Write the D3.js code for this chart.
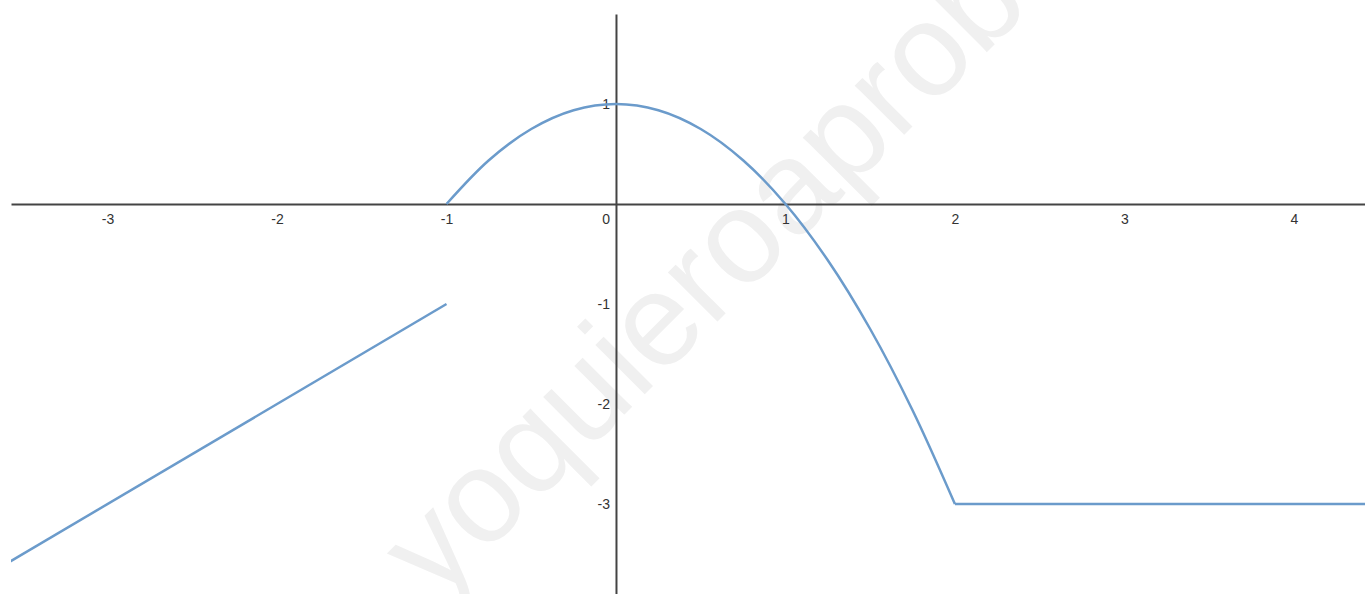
<!DOCTYPE html>
<html>
<head>
<meta charset="utf-8">
<script src="https://cdn.jsdelivr.net/npm/d3@7"></script>
<style>
  html, body { margin: 0; padding: 0; background: #fff; overflow: hidden; }
  text { font-family: "Liberation Sans", Arial, sans-serif; }
</style>
</head>
<body>
<script>
// piecewise function, points
// left branch: straight line, open end at x = -1
var lineX = [-3.6, -1];
var lineY = [-3.6, -1];
// middle branch: the arch from -1 to 2
var archX = [-1, -0.75, -0.5, -0.25, 0, 0.25, 0.5, 0.75, 1, 1.25, 1.5, 1.75, 2];
var archY = [0, 0.4375, 0.75, 0.9375, 1, 0.9375, 0.75, 0.4375, 0, -0.5625, -1.25, -2.0625, -3];
// right branch: flat at -3
var flatX = [2, 4.5];
var flatY = [-3, -3];

var xTicks = [-3, -2, -1, 1, 2, 3, 4];
var yTicks = [1, -1, -2, -3];

var width = 1365, height = 594;

var svg = d3.select('body').append('svg')
      .attr('width', width)
      .attr('height', height);

var x = d3.scaleLinear().domain([-3.57, 4.42]).range([11, 1365]);
var y = d3.scaleLinear().domain([1.9, -3.9]).range([14, 594]);

var plain = function(d) { return String(d); };

// watermark
svg.append('text')
  .attr('transform', 'translate(436,603) rotate(-45)')
  .attr('font-size', 132)
  .attr('fill', '#f0f0f0')
  .text('yoquieroaprobar');

// x axis
var xAxis = svg.append('g')
  .attr('transform', 'translate(0,' + y(0) + ')')
  .call(d3.axisBottom(x).tickValues(xTicks).tickFormat(plain)
    .tickSize(0).tickSizeOuter(0).tickPadding(10));
xAxis.select('.domain').attr('stroke', '#444').attr('stroke-width', 2);
xAxis.selectAll('text').attr('font-size', 14).attr('fill', '#333')
  .attr('font-family', '"Liberation Sans", Arial, sans-serif');
xAxis.append('text')
  .attr('x', x(0) - 6)
  .attr('y', 10)
  .attr('dy', '0.71em')
  .attr('text-anchor', 'end')
  .attr('font-size', 14)
  .attr('fill', '#333')
  .text('0');

// y axis
var yAxis = svg.append('g')
  .attr('transform', 'translate(' + x(0) + ',0)')
  .call(d3.axisLeft(y).tickValues(yTicks).tickFormat(plain)
    .tickSize(0).tickSizeOuter(0).tickPadding(6));
yAxis.select('.domain').attr('stroke', '#444').attr('stroke-width', 2);
yAxis.selectAll('text').attr('font-size', 14).attr('fill', '#333')
  .attr('font-family', '"Liberation Sans", Arial, sans-serif');

svg.append('clipPath').attr('id', 'plot')
  .append('rect').attr('x', 11).attr('y', 0).attr('width', width - 11).attr('height', height);

var plot = svg.append('g').attr('clip-path', 'url(#plot)');

var toPts = function(xs, ys) {
  return xs.map(function(d, i) { return [d, ys[i]]; });
};

var straight = d3.line()
  .x(function(d) { return x(d[0]); })
  .y(function(d) { return y(d[1]); });

var smooth = d3.line()
  .x(function(d) { return x(d[0]); })
  .y(function(d) { return y(d[1]); })
  .curve(d3.curveCatmullRom.alpha(0.5));

var blue = '#6b9bcb';

plot.append('path')
  .attr('d', straight(toPts(lineX, lineY)))
  .attr('fill', 'none').attr('stroke', blue).attr('stroke-width', 2.5);

plot.append('path')
  .attr('d', smooth(toPts(archX, archY)))
  .attr('fill', 'none').attr('stroke', blue).attr('stroke-width', 2.5);

plot.append('path')
  .attr('d', straight(toPts(flatX, flatY)))
  .attr('fill', 'none').attr('stroke', blue).attr('stroke-width', 2.5);
</script>
</body>
</html>
